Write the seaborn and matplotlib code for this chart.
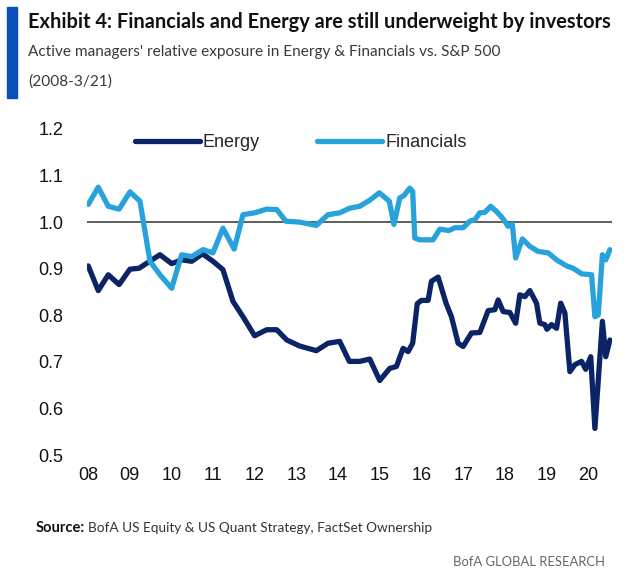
import numpy as np
import pandas as pd
import matplotlib
matplotlib.use("Agg")
import matplotlib.pyplot as plt
import seaborn as sns
from matplotlib.patches import Rectangle

# values (decimal year, relative exposure)
energy_x = [2008.01, 2008.25, 2008.49, 2008.75, 2009.01, 2009.23, 2009.45, 2009.73,
            2010.01, 2010.25, 2010.49, 2010.75, 2011.00, 2011.24, 2011.48, 2011.72,
            2012.00, 2012.29, 2012.53, 2012.77, 2013.08, 2013.48, 2013.76, 2014.04,
            2014.27, 2014.52, 2014.76, 2015.00, 2015.24, 2015.40, 2015.56, 2015.68,
            2015.79, 2015.90, 2016.00, 2016.16, 2016.24, 2016.40, 2016.59, 2016.72,
            2016.88, 2017.00, 2017.20, 2017.40, 2017.60, 2017.76, 2017.84, 2017.96,
            2018.12, 2018.26, 2018.36, 2018.48, 2018.60, 2018.76, 2018.84, 2018.96,
            2019.01, 2019.12, 2019.24, 2019.34, 2019.44, 2019.56, 2019.68, 2019.84,
            2019.94, 2020.06, 2020.16, 2020.34, 2020.42, 2020.52]
energy = [0.906, 0.853, 0.887, 0.866, 0.899, 0.901, 0.914, 0.930,
          0.911, 0.919, 0.916, 0.932, 0.916, 0.898, 0.830, 0.797,
          0.756, 0.769, 0.769, 0.747, 0.734, 0.724, 0.740, 0.744,
          0.701, 0.701, 0.706, 0.660, 0.686, 0.690, 0.729, 0.722,
          0.740, 0.825, 0.832, 0.832, 0.873, 0.882, 0.826, 0.797,
          0.740, 0.733, 0.762, 0.763, 0.810, 0.812, 0.833, 0.808,
          0.806, 0.783, 0.844, 0.840, 0.853, 0.826, 0.783, 0.780,
          0.770, 0.780, 0.772, 0.826, 0.805, 0.679, 0.694, 0.701,
          0.684, 0.711, 0.557, 0.787, 0.711, 0.747]

fin_x = [2008.01, 2008.25, 2008.49, 2008.75, 2009.01, 2009.25, 2009.49, 2009.73,
         2010.01, 2010.25, 2010.49, 2010.76, 2011.00, 2011.24, 2011.51, 2011.72,
         2012.00, 2012.29, 2012.53, 2012.75, 2013.08, 2013.48, 2013.76, 2014.04,
         2014.28, 2014.52, 2014.76, 2014.99, 2015.23, 2015.34, 2015.48, 2015.58,
         2015.72, 2015.79, 2015.84, 2015.96, 2016.28, 2016.44, 2016.66, 2016.80,
         2017.00, 2017.16, 2017.28, 2017.40, 2017.52, 2017.66, 2017.80, 2017.96,
         2018.08, 2018.18, 2018.26, 2018.42, 2018.60, 2018.80, 2019.04, 2019.24,
         2019.48, 2019.64, 2019.84, 2020.08, 2020.16, 2020.24, 2020.34, 2020.42,
         2020.52]
financials = [1.038, 1.075, 1.034, 1.028, 1.065, 1.045, 0.916, 0.887,
              0.858, 0.930, 0.926, 0.941, 0.934, 0.987, 0.942, 1.016,
              1.020, 1.028, 1.027, 1.002, 1.000, 0.993, 1.016, 1.020,
              1.030, 1.034, 1.047, 1.063, 1.045, 0.995, 1.052, 1.057,
              1.073, 1.066, 0.966, 0.962, 0.962, 0.985, 0.982, 0.988,
              0.988, 1.002, 1.005, 1.020, 1.021, 1.034, 1.023, 1.007,
              0.991, 0.995, 0.923, 0.964, 0.948, 0.937, 0.934, 0.919,
              0.906, 0.901, 0.889, 0.887, 0.797, 0.801, 0.930, 0.919,
              0.941]

years = list(range(2008, 2021))
year_labels = [f"{y % 100:02d}" for y in years]
y_ticks = [0.5, 0.6, 0.7, 0.8, 0.9, 1.0, 1.1, 1.2]

navy = "#0b2466"
light_blue = "#28a2da"

sns.set_theme(style="white")
plt.rcParams["font.family"] = ["Liberation Sans", "DejaVu Sans"]
head_font = ["Lato", "DejaVu Sans"]

fig = plt.figure(figsize=(6.25, 5.78), dpi=100)
ax = fig.add_axes([87 / 625, 1 - 455 / 578, (612 - 87) / 625, (455 - 129) / 578])

df_e = pd.DataFrame({"x": energy_x, "y": energy})
df_f = pd.DataFrame({"x": fin_x, "y": financials})
sns.lineplot(data=df_e, x="x", y="y", ax=ax, color=navy, lw=3.8, sort=False, label="Energy")
sns.lineplot(data=df_f, x="x", y="y", ax=ax, color=light_blue, lw=3.8, sort=False, label="Financials")
ax.axhline(1.0, color="#333333", lw=1.1, zorder=0)

ax.set_xlim(2007.98, 2020.57)
ax.set_ylim(0.5, 1.2)
ax.set_xticks(years)
ax.set_xticklabels(year_labels)
ax.set_yticks(y_ticks)
ax.set_yticklabels([f"{v:.1f}" for v in y_ticks])
ax.tick_params(axis="both", length=0, labelsize=13, colors="#111111")
ax.tick_params(axis="y", pad=17)
ax.tick_params(axis="x", pad=9)
ax.set_xlabel("")
ax.set_ylabel("")
sns.despine(ax=ax, left=True, bottom=True)

ax.legend(loc="upper left", bbox_to_anchor=(0.06, 1.035), ncol=2, frameon=False,
          fontsize=13, handlelength=3.6, handletextpad=0.15, columnspacing=3.2)

renderer = fig.canvas.get_renderer()


def fit_text(x, y, s, width_px, ha="left", **kw):
    # scale the font so the text spans about the width it has in the reference
    t = fig.text(x / 625, 1 - y / 578, s, va="center", ha=ha, **kw)
    w = t.get_window_extent(renderer).width
    t.set_fontsize(t.get_fontsize() * width_px / w)
    return t


# header
fig.patches.append(Rectangle((7 / 625, 1 - 98 / 578), 10 / 625, 91 / 578,
                             transform=fig.transFigure, color="#0a50b8", zorder=5))
fit_text(28, 22, "Exhibit 4: Financials and Energy are still underweight by investors", 584,
         fontsize=14, fontweight="bold", family=head_font, color="#111111")
sub = fit_text(28, 52, "Active managers' relative exposure in Energy & Financials vs. S&P 500", 476,
               fontsize=15, fontweight="normal", family=head_font, color="#3a3a3a")
fig.text(28 / 625, 1 - 82 / 578, "(2008-3/21)", fontsize=sub.get_fontsize(), fontweight="normal",
         family=head_font, va="center", ha="left", color="#3a3a3a")

# footer
fit_text(36, 528, "Source:", 49, fontsize=11, fontweight="bold", family=head_font, color="#111111")
fit_text(88, 528, "BofA US Equity & US Quant Strategy, FactSet Ownership", 342,
         fontsize=11, fontweight="normal", family=head_font, color="#333333")
fit_text(605, 562, "BofA GLOBAL RESEARCH", 152, ha="right", fontsize=11, fontweight="normal",
         family=head_font, color="#666666")

fig.savefig("out.png", dpi=100)
